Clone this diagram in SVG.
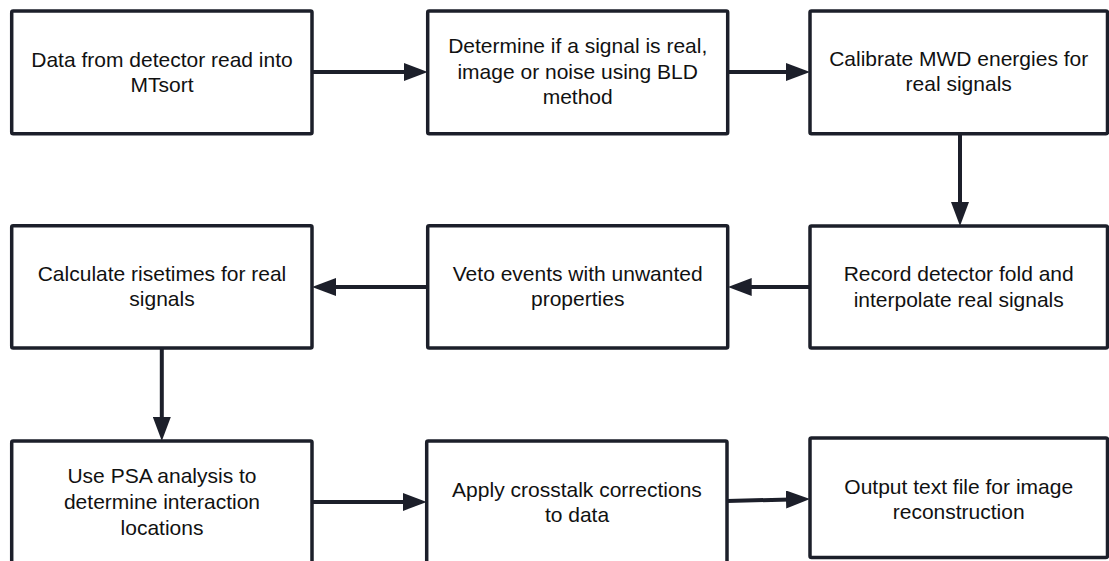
<svg xmlns="http://www.w3.org/2000/svg" width="1109" height="561" viewBox="0 0 1109 561">
  <defs>
    <style>
      .box { fill: #ffffff; stroke: #1c1f2a; stroke-width: 3.5; }
      .lbl { font-family: "Liberation Sans", Arial, sans-serif; font-size: 21px; fill: #111111; text-anchor: middle; }
      .conn { stroke: #1c1f2a; stroke-width: 4; fill: none; marker-end: url(#arrow); }
    </style>
    <marker id="arrow" markerUnits="userSpaceOnUse" markerWidth="24" markerHeight="18" refX="14" refY="9" orient="auto">
      <path d="M0,0 L24,9 L0,18 Z" fill="#1c1f2a"/>
    </marker>
  </defs>
  <rect width="1109" height="561" fill="#ffffff"/>

  <g id="connectors">
    <line class="conn" x1="312" y1="72" x2="417.7" y2="72"/>
    <line class="conn" x1="727.7" y1="72" x2="800" y2="72"/>
    <line class="conn" x1="960" y1="133.7" x2="960" y2="216"/>
    <line class="conn" x1="810" y1="287" x2="737.7" y2="287"/>
    <line class="conn" x1="427.7" y1="287" x2="322" y2="287"/>
    <line class="conn" x1="161.8" y1="348" x2="161.8" y2="431"/>
    <line class="conn" x1="312" y1="502" x2="416.7" y2="502"/>
    <line class="conn" x1="727" y1="501" x2="800" y2="499.2"/>
  </g>

  <g id="node1">
    <rect class="box" x="11.7" y="11" width="300.3" height="122.7" rx="1.5"/>
    <text class="lbl" x="162" y="66.7">Data from detector read into</text>
    <text class="lbl" x="162" y="91.7">MTsort</text>
  </g>
  <g id="node2">
    <rect class="box" x="427.7" y="11" width="300" height="122.7" rx="1.5"/>
    <text class="lbl" x="577.7" y="53.3">Determine if a signal is real,</text>
    <text class="lbl" x="577.7" y="79">image or noise using BLD</text>
    <text class="lbl" x="577.7" y="104.3">method</text>
  </g>
  <g id="node3">
    <rect class="box" x="810" y="11" width="297.5" height="122.7" rx="1.5"/>
    <text class="lbl" x="958.7" y="66.3">Calibrate MWD energies for</text>
    <text class="lbl" x="958.7" y="91.3">real signals</text>
  </g>
  <g id="node4">
    <rect class="box" x="810" y="226" width="297.5" height="122" rx="1.5"/>
    <text class="lbl" x="958.7" y="281.3">Record detector fold and</text>
    <text class="lbl" x="958.7" y="306.5">interpolate real signals</text>
  </g>
  <g id="node5">
    <rect class="box" x="427.7" y="225.7" width="300" height="122.3" rx="1.5"/>
    <text class="lbl" x="577.7" y="281">Veto events with unwanted</text>
    <text class="lbl" x="577.7" y="306.3">properties</text>
  </g>
  <g id="node6">
    <rect class="box" x="11.7" y="225.7" width="300.3" height="122.3" rx="1.5"/>
    <text class="lbl" x="162" y="281">Calculate risetimes for real</text>
    <text class="lbl" x="162" y="306.3">signals</text>
  </g>
  <g id="node7">
    <rect class="box" x="11.7" y="441" width="300.3" height="123" rx="1.5"/>
    <text class="lbl" x="162" y="483.3">Use PSA analysis to</text>
    <text class="lbl" x="162" y="509">determine interaction</text>
    <text class="lbl" x="162" y="534.7">locations</text>
  </g>
  <g id="node8">
    <rect class="box" x="426.7" y="441" width="300.3" height="123" rx="1.5"/>
    <text class="lbl" x="577" y="496.7">Apply crosstalk corrections</text>
    <text class="lbl" x="577" y="521.7">to data</text>
  </g>
  <g id="node9">
    <rect class="box" x="810" y="438" width="297.5" height="119.5" rx="1.5"/>
    <text class="lbl" x="958.7" y="494">Output text file for image</text>
    <text class="lbl" x="958.7" y="519">reconstruction</text>
  </g>
</svg>
